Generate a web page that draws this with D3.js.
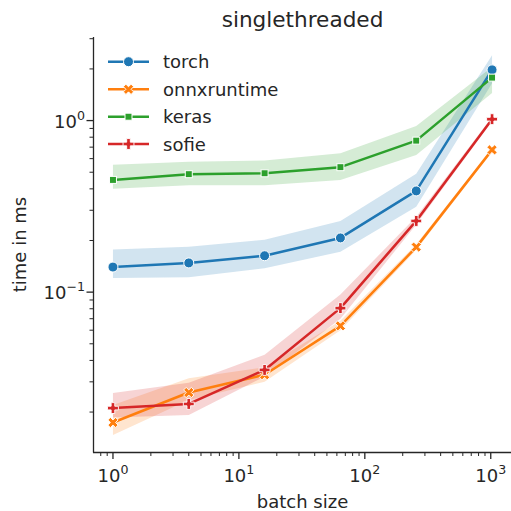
<!DOCTYPE html>
<html>
<head>
<meta charset="utf-8">
<script src="https://cdn.jsdelivr.net/npm/d3@7/dist/d3.min.js"></script>
<style>
  html, body { margin: 0; padding: 0; background: #fff; }
  svg { display: block; font-family: "DejaVu Sans", sans-serif; }
</style>
</head>
<body>
<svg id="chart" width="511" height="511"></svg>
<script>
// ---- data ----
const batchSizes = [1, 4, 16, 64, 256, 1024];
const seriesNames = ["torch", "onnxruntime", "keras", "sofie"];
const seriesColors = ["#1f77b4", "#ff7f0e", "#2ca02c", "#d62728"];

const torchMean = [0.140, 0.148, 0.163, 0.207, 0.389, 1.975];
const torchLow  = [0.121, 0.122, 0.138, 0.172, 0.315, 1.65];
const torchHigh = [0.177, 0.184, 0.202, 0.260, 0.490, 2.40];

const onnxMean = [0.01738, 0.0260, 0.0330, 0.0636, 0.183, 0.675];
const onnxLow  = [0.0147, 0.0235, 0.0300, 0.0600, 0.176, 0.660];
const onnxHigh = [0.0220, 0.0315, 0.0365, 0.0680, 0.190, 0.690];

const kerasMean = [0.451, 0.487, 0.493, 0.535, 0.764, 1.78];
const kerasLow  = [0.400, 0.420, 0.420, 0.450, 0.630, 1.45];
const kerasHigh = [0.552, 0.575, 0.585, 0.645, 0.930, 2.05];

const sofieMean = [0.0211, 0.0223, 0.0352, 0.0807, 0.260, 1.019];
const sofieLow  = [0.0186, 0.0192, 0.0322, 0.0700, 0.248, 0.990];
const sofieHigh = [0.0258, 0.0296, 0.0431, 0.0970, 0.275, 1.050];

const xMajorTicks = [1, 10, 100, 1000];
const xTickExponents = ["0", "1", "2", "3"];
const yMajorTicks = [0.1, 1];
const yTickExponents = ["\u22121", "0"];

const titleText = "singlethreaded";
const xLabelText = "batch size";
const yLabelText = "time in ms";

// ---- build ----
const series = [
  { name: seriesNames[0], color: seriesColors[0], mean: torchMean, lo: torchLow, hi: torchHigh, marker: "circle" },
  { name: seriesNames[1], color: seriesColors[1], mean: onnxMean,  lo: onnxLow,  hi: onnxHigh,  marker: "x" },
  { name: seriesNames[2], color: seriesColors[2], mean: kerasMean, lo: kerasLow, hi: kerasHigh, marker: "square" },
  { name: seriesNames[3], color: seriesColors[3], mean: sofieMean, lo: sofieLow, hi: sofieHigh, marker: "plus" }
];

const svg = d3.select("#chart");
const textColor = "#262626";
const L = 94, R = 511, T = 37, B = 452;

const x = d3.scaleLog().domain([0.707, 1448]).range([L, R]);
const y = d3.scaleLog().domain([0.0117, 3.07]).range([B, T]);

// bands (all below lines)
const area = d3.area()
  .x((d, i) => x(batchSizes[i]))
  .y0(d => y(d[0]))
  .y1(d => y(d[1]));
series.forEach(s => {
  const pts = s.lo.map((v, i) => [v, s.hi[i]]);
  svg.append("path")
    .attr("d", area(pts))
    .attr("fill", s.color)
    .attr("fill-opacity", 0.2)
    .attr("stroke", "none");
});

// marker drawer
function drawMarker(g, type, color, cx, cy) {
  if (type === "circle") {
    g.append("circle").attr("cx", cx).attr("cy", cy).attr("r", 5)
      .attr("fill", color).attr("stroke", "#fff").attr("stroke-width", 1);
  } else if (type === "square") {
    g.append("rect").attr("x", cx - 3.5).attr("y", cy - 3.5).attr("width", 7).attr("height", 7)
      .attr("fill", color).attr("stroke", "#fff").attr("stroke-width", 1);
  } else if (type === "plus") {
    g.append("path").attr("d", d3.symbol(d3.symbolCross, 66)())
      .attr("transform", `translate(${cx},${cy})`)
      .attr("fill", color).attr("stroke", "#fff").attr("stroke-width", 0.9);
  } else if (type === "x") {
    g.append("path").attr("d", d3.symbol(d3.symbolCross, 66)())
      .attr("transform", `translate(${cx},${cy}) rotate(45)`)
      .attr("fill", color).attr("stroke", "#fff").attr("stroke-width", 0.9);
  }
}

// lines + markers
const line = d3.line().x((d, i) => x(batchSizes[i])).y(d => y(d));
series.forEach(s => {
  const g = svg.append("g");
  g.append("path").attr("d", line(s.mean))
    .attr("fill", "none").attr("stroke", s.color).attr("stroke-width", 2.5)
    .attr("stroke-linejoin", "round").attr("stroke-linecap", "round");
  s.mean.forEach((v, i) => drawMarker(g, s.marker, s.color, x(batchSizes[i]), y(v)));
});

// axes
function minorTicks(domain) {
  const out = [];
  for (let e = -3; e <= 4; e++) {
    for (let m = 2; m <= 9; m++) {
      const v = m * Math.pow(10, e);
      if (v >= domain[0] && v <= domain[1]) out.push(v);
    }
  }
  return out;
}
const axes = svg.append("g").attr("stroke", textColor);
axes.append("line").attr("x1", L - 0.5).attr("x2", L - 0.5).attr("y1", T).attr("y2", B + 0.5).attr("stroke-width", 1.3);
axes.append("line").attr("x1", L - 1).attr("x2", R).attr("y1", B + 0.5).attr("y2", B + 0.5).attr("stroke-width", 1.3);

xMajorTicks.forEach(v => axes.append("line").attr("x1", x(v)).attr("x2", x(v)).attr("y1", B).attr("y2", B + 7).attr("stroke-width", 1.3));
minorTicks(x.domain()).forEach(v => axes.append("line").attr("x1", x(v)).attr("x2", x(v)).attr("y1", B).attr("y2", B + 4).attr("stroke-width", 1));
yMajorTicks.forEach(v => axes.append("line").attr("x1", L - 7.5).attr("x2", L).attr("y1", y(v)).attr("y2", y(v)).attr("stroke-width", 1.3));
minorTicks(y.domain()).forEach(v => axes.append("line").attr("x1", L - 4.5).attr("x2", L).attr("y1", y(v)).attr("y2", y(v)).attr("stroke-width", 1));

// tick labels
const fs = 18;
xMajorTicks.forEach((v, i) => {
  const t = svg.append("text").attr("x", x(v)).attr("y", B + 29.5).attr("text-anchor", "middle")
    .attr("font-size", fs).attr("fill", textColor);
  t.append("tspan").text("10");
  t.append("tspan").attr("font-size", fs * 0.7).attr("dy", -8).text(xTickExponents[i]);
});
yMajorTicks.forEach((v, i) => {
  const t = svg.append("text").attr("x", L - 9).attr("y", y(v) + 7).attr("text-anchor", "end")
    .attr("font-size", fs).attr("fill", textColor);
  t.append("tspan").text("10");
  t.append("tspan").attr("font-size", fs * 0.7).attr("dy", -8).text(yTickExponents[i]);
});

// labels & title
svg.append("text").attr("x", (L + R) / 2).attr("y", 508).attr("text-anchor", "middle")
  .attr("font-size", fs).attr("fill", textColor).text(xLabelText);
svg.append("text").attr("transform", `translate(25.5,${(T + B) / 2}) rotate(-90)`).attr("text-anchor", "middle")
  .attr("font-size", fs).attr("fill", textColor).text(yLabelText);
svg.append("text").attr("x", (L + R) / 2).attr("y", 26.5).attr("text-anchor", "middle")
  .attr("font-size", 21.6).attr("fill", textColor).text(titleText);

// legend
const legendRows = [61.7, 89.3, 116.7, 144];
series.forEach((s, i) => {
  const g = svg.append("g");
  const cy = legendRows[i];
  g.append("line").attr("x1", 108).attr("x2", 149).attr("y1", cy).attr("y2", cy)
    .attr("stroke", s.color).attr("stroke-width", 2.5);
  drawMarker(g, s.marker, s.color, 128.5, cy);
  g.append("text").attr("x", 163).attr("y", cy + 6.6).attr("font-size", fs).attr("fill", textColor).text(s.name);
});
</script>
</body>
</html>
